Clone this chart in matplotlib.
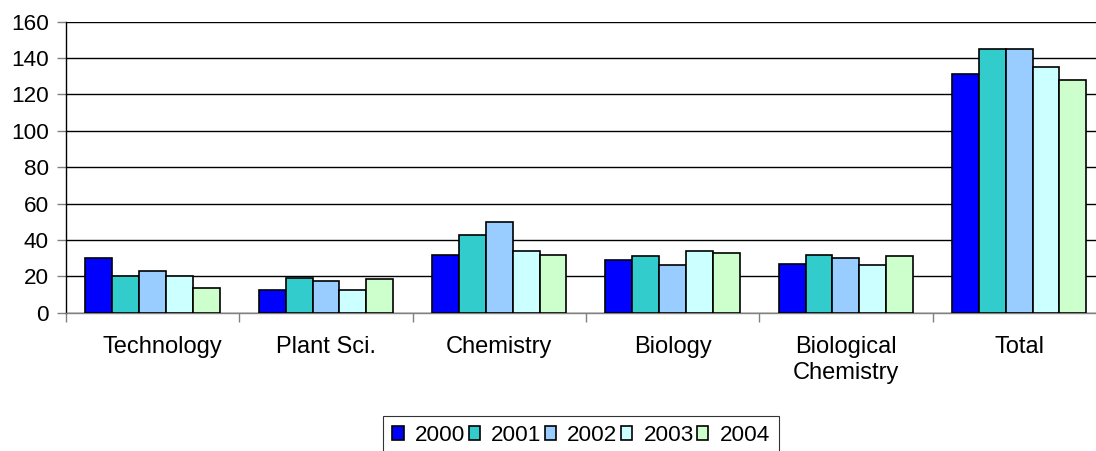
import matplotlib
matplotlib.use("Agg")
import matplotlib.pyplot as plt
import matplotlib.transforms as mtransforms
import numpy as np

categories = ["Technology", "Plant Sci.", "Chemistry", "Biology", "Biological\nChemistry", "Total"]
years = ["2000", "2001", "2002", "2003", "2004"]
v2000 = [30, 12.5, 32, 29, 27, 131]
v2001 = [20, 19, 42.5, 31, 32, 145]
v2002 = [23, 17.5, 50, 26, 30, 145]
v2003 = [20, 12.5, 34, 34, 26, 135]
v2004 = [13.5, 18.5, 32, 33, 31, 128]
series = [v2000, v2001, v2002, v2003, v2004]
colors = ["#0000FF", "#33CCCC", "#99CCFF", "#CCFFFF", "#CCFFCC"]

plt.rcParams['font.family'] = ['Liberation Sans', 'DejaVu Sans']

W, H = 1096, 451
fig = plt.figure(figsize=(W / 100, H / 100), dpi=100)
left, right, top, bottom = 66, 66 + 6 * 173.3, 21.7, 312.7
ax = fig.add_axes([left / W, 1 - bottom / H, (right - left) / W, (bottom - top) / H])

x = np.arange(len(categories))
bw = 1 / 6.45
handles = []
for i, (vals, c, yr) in enumerate(zip(series, colors, years)):
    h = ax.bar(x + (i - 2) * bw, vals, width=bw, color=c, edgecolor="black",
               linewidth=1.2, label=yr, zorder=3)
    handles.append(h)

ax.set_xlim(-0.5, len(categories) - 0.5)
ax.set_ylim(0, 160)
ax.set_yticks(np.arange(0, 161, 20))
ax.yaxis.grid(True, color="black", linewidth=1.0, zorder=0)
ax.set_axisbelow(True)

ax.set_xticks(x)
ax.set_xticklabels(categories, fontsize=17, linespacing=1.2)
ax.set_xticks(np.arange(-0.5, len(categories) + 0.5, 1), minor=True)
ax.tick_params(axis="x", which="major", length=0, pad=17)
ax.tick_params(axis="x", which="minor", length=6.5, width=1.0, color="#808080", direction="out")
ax.tick_params(axis="y", length=6.5, width=1.0, color="#808080", direction="out", labelsize=16.2, pad=6)

# the first category label sits slightly right of centre in the reference
lbl0 = ax.get_xticklabels()[0]
lbl0.set_transform(lbl0.get_transform() + mtransforms.ScaledTranslation(10 / 100, 0, fig.dpi_scale_trans))

for s in ["top", "right"]:
    ax.spines[s].set_visible(False)
ax.spines["left"].set_color("black")
ax.spines["left"].set_linewidth(1.0)
ax.spines["bottom"].set_color("#808080")
ax.spines["bottom"].set_linewidth(1.0)

leg = fig.legend(handles=handles, labels=years, loc="upper left",
                 bbox_to_anchor=(383.3 / W, 1 - 416 / H), ncol=5, fontsize=16.2,
                 handlelength=0.5, handleheight=0.55, handletextpad=0.5,
                 columnspacing=0.15, borderpad=0.4, borderaxespad=0,
                 frameon=True, fancybox=False, shadow=False)
leg.get_frame().set_edgecolor("black")
leg.get_frame().set_linewidth(0.8)

fig.savefig("out.png", dpi=100)
